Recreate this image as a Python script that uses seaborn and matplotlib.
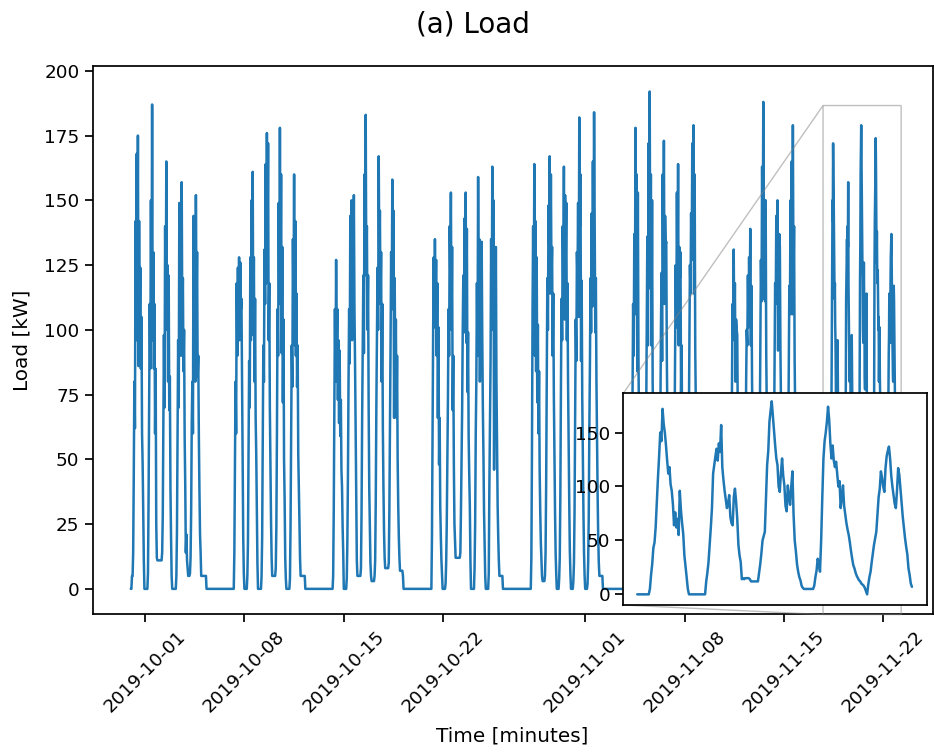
import pandas as pd
import matplotlib
matplotlib.use("Agg")
import matplotlib.pyplot as plt
import seaborn as sns

# Hourly load readings [kW], one list per day (Mon..Sun)
week_sep30 = [
    [0, 0, 5, 5, 14, 44, 80, 62, 142, 96, 168, 105, 175, 86, 142, 100, 124, 85, 105, 60, 48, 30, 11, 0],
    [0, 0, 0, 0, 0, 6, 34, 72, 110, 85, 150, 100, 187, 96, 130, 85, 110, 60, 85, 25, 12, 11, 11, 11],
    [11, 11, 11, 11, 11, 14, 28, 62, 98, 70, 140, 100, 165, 110, 125, 80, 121, 69, 82, 39, 20, 5, 0, 0],
    [0, 0, 0, 0, 0, 5, 22, 58, 96, 70, 149, 108, 138, 90, 157, 101, 120, 84, 100, 59, 40, 14, 21, 11],
    [8, 5, 5, 5, 6, 12, 30, 64, 80, 60, 144, 99, 118, 80, 152, 108, 130, 82, 90, 59, 38, 21, 14, 5],
    [5, 5, 5, 5, 5, 5, 5, 5, 0, 0, 0, 0, 0, 0, 0, 0, 0, 0, 0, 0, 0, 0, 0, 0],
    [0] * 24,
]
week_oct07 = [
    [0, 0, 0, 0, 0, 0, 0, 14, 48, 80, 60, 118, 90, 124, 100, 128, 96, 126, 108, 112, 80, 52, 20, 6],
    [0, 0, 0, 0, 0, 5, 18, 50, 88, 70, 128, 96, 150, 110, 161, 98, 128, 80, 112, 66, 52, 30, 10, 0],
    [0, 0, 0, 0, 0, 5, 20, 56, 94, 80, 131, 110, 164, 118, 176, 132, 172, 96, 118, 70, 46, 26, 12, 5],
    [5, 5, 5, 5, 5, 8, 24, 60, 108, 90, 149, 110, 178, 120, 160, 91, 132, 72, 104, 50, 34, 12, 4, 0],
    [0, 0, 0, 0, 0, 4, 25, 62, 94, 78, 135, 108, 160, 94, 142, 90, 114, 78, 94, 52, 40, 26, 12, 5],
    [5, 5, 5, 5, 5, 5, 5, 0, 0, 0, 0, 0, 0, 0, 0, 0, 0, 0, 0, 0, 0, 0, 0, 0],
    [0] * 24,
]
week_oct14 = [
    [0, 0, 0, 0, 0, 0, 5, 30, 66, 108, 80, 127, 92, 108, 73, 96, 64, 92, 59, 73, 46, 39, 24, 14],
    [0, 0, 0, 0, 0, 4, 18, 44, 80, 108, 87, 144, 110, 150, 96, 140, 118, 152, 108, 87, 60, 30, 11, 5],
    [5, 5, 5, 5, 5, 8, 30, 66, 94, 121, 91, 160, 122, 183, 121, 140, 100, 121, 70, 39, 24, 10, 5, 3],
    [3, 3, 3, 3, 5, 11, 34, 70, 98, 124, 100, 167, 127, 146, 110, 130, 80, 110, 62, 39, 22, 12, 8, 8],
    [8, 8, 8, 8, 10, 30, 60, 94, 130, 108, 158, 108, 146, 66, 120, 80, 104, 66, 90, 50, 32, 20, 12, 7],
    [7, 7, 7, 7, 5, 0, 0, 0, 0, 0, 0, 0, 0, 0, 0, 0, 0, 0, 0, 0, 0, 0, 0, 0],
    [0] * 24,
]
week_oct21 = [
    [0, 0, 0, 0, 0, 20, 60, 100, 128, 101, 135, 108, 127, 90, 118, 66, 101, 48, 66, 32, 20, 11, 5, 0],
    [0, 0, 0, 0, 2, 10, 25, 50, 73, 108, 90, 140, 121, 153, 100, 132, 69, 90, 48, 25, 18, 12, 12, 12],
    [12, 12, 12, 12, 12, 14, 30, 50, 69, 100, 121, 99, 143, 110, 153, 95, 139, 76, 99, 59, 44, 32, 11, 0],
    [0, 0, 0, 0, 0, 8, 25, 60, 80, 118, 90, 159, 108, 135, 80, 112, 90, 134, 98, 70, 52, 30, 18, 5],
    [0, 0, 0, 0, 0, 6, 39, 62, 87, 135, 100, 163, 114, 150, 46, 104, 80, 132, 80, 56, 32, 20, 11, 5],
    [5, 5, 5, 5, 5, 0, 0, 0, 0, 0, 0, 0, 0, 0, 0, 0, 0, 0, 0, 0, 0, 0, 0, 0],
    [0] * 24,
]
week_oct28 = [
    [0, 0, 0, 0, 0, 12, 52, 108, 140, 102, 164, 90, 142, 84, 128, 72, 102, 60, 84, 46, 30, 18, 11, 5],
    [3, 3, 3, 3, 5, 14, 40, 80, 120, 100, 148, 133, 167, 114, 160, 120, 132, 90, 114, 75, 52, 30, 14, 6],
    [0, 0, 0, 0, 4, 12, 36, 78, 112, 96, 140, 118, 163, 104, 152, 127, 149, 96, 118, 80, 56, 34, 15, 6],
    [0, 0, 0, 0, 3, 10, 30, 66, 104, 88, 130, 119, 149, 105, 182, 140, 160, 88, 119, 74, 50, 30, 14, 5],
    [0, 0, 0, 0, 2, 10, 28, 62, 87, 120, 99, 145, 109, 165, 120, 184, 140, 99, 120, 80, 56, 36, 20, 10],
    [5, 5, 5, 5, 5, 5, 0, 0, 0, 0, 0, 0, 0, 0, 0, 0, 0, 0, 0, 0, 0, 0, 0, 0],
    [0] * 24,
]
week_nov04 = [
    [0, 0, 0, 0, 0, 4, 20, 48, 75, 110, 90, 137, 106, 178, 120, 160, 84, 153, 90, 62, 40, 22, 10, 4],
    [0, 0, 0, 0, 2, 8, 26, 60, 100, 136, 94, 172, 140, 192, 116, 160, 94, 150, 80, 58, 36, 18, 8, 2],
    [0, 0, 0, 0, 3, 10, 30, 64, 100, 122, 88, 160, 120, 173, 110, 144, 133, 134, 88, 62, 40, 20, 8, 3],
    [0, 0, 0, 0, 2, 8, 28, 60, 96, 125, 101, 153, 118, 164, 94, 132, 120, 130, 75, 94, 50, 28, 12, 4],
    [0, 0, 0, 0, 2, 6, 22, 54, 92, 125, 114, 145, 127, 172, 133, 179, 114, 160, 92, 70, 46, 26, 12, 6],
    [3, 3, 3, 3, 3, 0, 0, 0, 0, 0, 0, 0, 0, 0, 0, 0, 0, 0, 0, 0, 0, 0, 0, 0],
    [0] * 24,
]
week_nov11 = [
    [0, 0, 0, 0, 0, 2, 14, 40, 76, 110, 98, 131, 96, 118, 80, 104, 100, 98, 62, 46, 30, 16, 6, 2],
    [0, 0, 0, 0, 0, 4, 18, 46, 80, 100, 94, 121, 101, 128, 110, 139, 94, 117, 80, 60, 38, 20, 8, 2],
    [0, 0, 0, 0, 2, 8, 26, 60, 100, 127, 111, 163, 127, 188, 112, 150, 111, 150, 90, 66, 42, 22, 8, 2],
    [0, 0, 0, 0, 1, 6, 22, 52, 88, 118, 110, 144, 114, 150, 92, 132, 137, 132, 92, 70, 46, 24, 10, 3],
    [0, 0, 0, 0, 2, 6, 20, 48, 82, 117, 106, 150, 118, 165, 106, 179, 118, 140, 88, 66, 44, 24, 10, 4],
    [0] * 24,
    [0] * 24,
]
# Half-hourly readings for the zoomed week (Mon..Fri)
week_nov18 = [
    [0, 0, 0, 0, 0, 0, 0, 0, 0, 0, 0, 5, 18, 28, 43, 48, 62, 86, 108, 128, 150, 142, 172, 158,
     150, 138, 124, 112, 118, 102, 96, 84, 64, 76, 62, 70, 55, 96, 78, 66, 56, 36, 26, 15, 5, 0, 0, 0],
    [0, 0, 0, 0, 0, 0, 0, 0, 0, 0, 0, 0, 12, 20, 30, 46, 62, 80, 112, 120, 128, 135, 124, 140,
     132, 157, 118, 106, 96, 88, 80, 84, 92, 72, 66, 64, 90, 98, 86, 70, 46, 36, 30, 14, 15, 14, 15, 15],
    [15, 15, 14, 12, 12, 12, 12, 12, 12, 12, 20, 28, 38, 50, 54, 58, 90, 120, 133, 160, 170, 179, 165, 150,
     138, 126, 120, 100, 95, 112, 126, 110, 101, 82, 77, 101, 90, 83, 100, 114, 74, 50, 40, 28, 21, 16, 13, 8],
    [6, 5, 5, 5, 5, 5, 5, 5, 5, 5, 8, 16, 22, 33, 28, 21, 50, 90, 126, 142, 150, 160, 174, 162,
     140, 126, 138, 124, 118, 123, 112, 100, 105, 80, 90, 101, 82, 74, 66, 60, 55, 48, 40, 33, 27, 24, 20, 17],
    [15, 13, 12, 10, 9, 8, 6, 3, 0, 9, 16, 21, 30, 38, 46, 52, 58, 74, 90, 98, 114, 108, 100, 95,
     117, 128, 133, 137, 126, 110, 100, 92, 84, 80, 96, 117, 111, 98, 86, 72, 62, 52, 44, 37, 24, 18, 10, 7],
]
week_starts = ["2019-09-30", "2019-10-07", "2019-10-14", "2019-10-21",
               "2019-10-28", "2019-11-04", "2019-11-11", "2019-11-18"]


def build_frame(start, days):
    parts = []
    t = pd.Timestamp(start)
    for vals in days:
        step = pd.Timedelta(hours=24) / len(vals)
        idx = pd.date_range(t, periods=len(vals), freq=step)
        parts.append(pd.DataFrame({"time": idx, "load": vals}))
        t += pd.Timedelta(days=1)
    return pd.concat(parts, ignore_index=True)


weeks = [week_sep30, week_oct07, week_oct14, week_oct21,
         week_oct28, week_nov04, week_nov11, week_nov18]
df = pd.concat([build_frame(s, w) for s, w in zip(week_starts, weeks)], ignore_index=True)
df_zoom = build_frame(week_starts[-1], week_nov18)

sns.set_theme(style="ticks", context="notebook", font_scale=1.2)
plt.rcParams["font.family"] = ["DejaVu Sans"]
plt.rcParams.update({
    "text.color": "black", "axes.labelcolor": "black", "axes.edgecolor": "black",
    "xtick.color": "black", "ytick.color": "black",
})

fig = plt.figure(figsize=(9.34, 7.53), dpi=100)
ax = fig.add_axes([0.0993, 0.1846, 0.8991, 0.7272])

sns.lineplot(data=df, x="time", y="load", ax=ax, color="#1f77b4", linewidth=1.8, errorbar=None)
ax.set_xlim(pd.Timestamp("2019-09-27 07:40"), pd.Timestamp("2019-11-25 11:00"))
ax.set_ylim(-9.7, 201.7)
ax.set_yticks([0, 25, 50, 75, 100, 125, 150, 175, 200])
ax.set_xlabel("Time [minutes]", labelpad=8)
ax.set_ylabel("Load [kW]", labelpad=9)
plt.setp(ax.get_xticklabels(), rotation=45)

# zoomed inset for the last week
axins = ax.inset_axes([0.632, 0.0164, 0.3613, 0.387])
sns.lineplot(data=df_zoom, x="time", y="load", ax=axins, color="#1f77b4", linewidth=1.8, errorbar=None)
axins.set_xlim(pd.Timestamp("2019-11-17 18:00"), pd.Timestamp("2019-11-23 06:00"))
axins.set_ylim(-9.9, 186.6)
axins.set_yticks([0, 50, 100, 150])
axins.set_xticks([])
axins.set_xlabel("")
axins.set_ylabel("")
ax.indicate_inset_zoom(axins, edgecolor="0.5")

fig.text(0.5066, 0.957, "(a) Load", ha="center", va="baseline", fontsize=20)

fig.savefig("out.png", dpi=100)
